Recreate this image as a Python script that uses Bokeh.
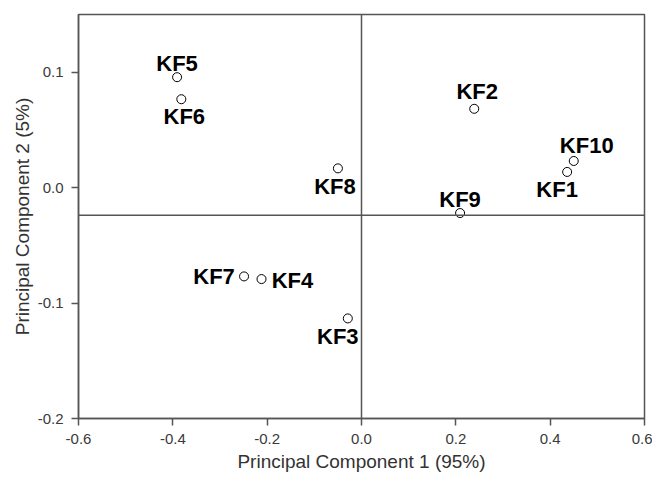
from bokeh.plotting import figure
from bokeh.models import ColumnDataSource, Span, FixedTicker, PrintfTickFormatter, Range1d
from bokeh.core.properties import value
from bokeh.embed import file_html
from bokeh.resources import INLINE

# Data
labels = ["KF1", "KF2", "KF3", "KF4", "KF5", "KF6", "KF7", "KF8", "KF9", "KF10"]
pc1 = [0.436, 0.239, -0.029, -0.212, -0.391, -0.382, -0.249, -0.050, 0.209, 0.450]
pc2 = [0.0136, 0.0683, -0.1133, -0.0792, 0.0957, 0.0766, -0.0769, 0.0167, -0.0220, 0.0231]
x_ticks = [-0.6, -0.4, -0.2, 0.0, 0.2, 0.4, 0.6]
y_ticks = [-0.2, -0.1, 0.0, 0.1]
ref_x = 0.0
ref_y = -0.024

# label offsets (pixels)
dx = [-10, 3, -10, 31, 0, 3, -30, -3, 0, 13]
dy = [18, -17, 18, 1, -14, 17, 0, 18, -14, -15]

src = ColumnDataSource(dict(x=pc1, y=pc2, label=labels, dx=dx, dy=dy))

p = figure(width=652, height=476, output_backend="svg", toolbar_location=None,
           x_range=Range1d(-0.6, 0.6), y_range=Range1d(-0.2, 0.15),
           min_border_left=78, min_border_right=8, min_border_top=14, min_border_bottom=58)
p.background_fill_color = "white"
p.border_fill_color = "white"
p.xgrid.visible = False
p.ygrid.visible = False
p.outline_line_color = "#555555"
p.outline_line_width = 1.5

grey = "#555555"
for ax in (p.xaxis[0], p.yaxis[0]):
    ax.axis_line_color = grey
    ax.axis_line_width = 1.5
    ax.major_tick_line_color = grey
    ax.major_tick_line_width = 1.5
    ax.major_tick_in = 0
    ax.major_tick_out = 7
    ax.minor_tick_line_color = None
    ax.major_label_text_font = "Liberation Sans"
    ax.major_label_text_font_size = "15px"
    ax.major_label_text_color = "#3a3a3a"
    ax.axis_label_text_font = "Liberation Sans"
    ax.axis_label_text_font_size = "19px"
    ax.axis_label_text_font_style = "normal"
    ax.axis_label_text_color = "#333333"
    ax.formatter = PrintfTickFormatter(format="%.1f")

p.xaxis.ticker = FixedTicker(ticks=x_ticks)
p.yaxis.ticker = FixedTicker(ticks=y_ticks)
p.xaxis.axis_label = "Principal Component 1 (95%)"
p.yaxis.axis_label = "Principal Component 2 (5%)"
p.xaxis.major_label_standoff = 8
p.yaxis.major_label_standoff = 8
p.xaxis.axis_label_standoff = 4
p.yaxis.axis_label_standoff = 2

p.add_layout(Span(location=ref_x, dimension="height", line_color=grey, line_width=1.5))
p.add_layout(Span(location=ref_y, dimension="width", line_color=grey, line_width=1.5))

p.scatter("x", "y", source=src, size=9, marker="circle", fill_color="white",
          line_color="black", line_width=1)
p.text("x", "y", text="label", source=src, x_offset="dx", y_offset="dy",
       text_align="center", text_baseline="middle",
       text_font=value("Liberation Sans"), text_font_style="bold",
       text_font_size="22px", text_color="black")

open("out.html", "w").write(file_html(p, INLINE))
